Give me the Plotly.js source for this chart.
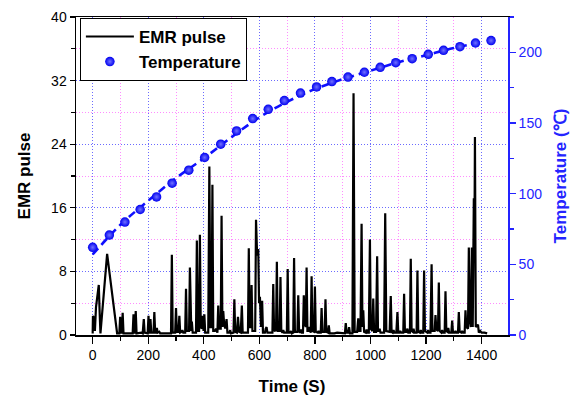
<!DOCTYPE html>
<html>
<head>
<meta charset="utf-8">
<script src="https://cdn.plot.ly/plotly-3.0.1.min.js"></script>
<style>html,body{margin:0;padding:0;background:#fff;}#chart{width:579px;height:398px;}</style>
</head>
<body>
<div id="chart"></div>
<script>
// EMR pulse samples: [time (s), pulse]
const emrSamples = [
[0,0.2],[1,2.4],[4,2.2],[8,0.5],[12,3.5],[22,6.3],[25,3],[28,0.2],[52,10.2],[88,0.2],
[96,0.2],[99,2.3],[102,0.3],[105,0.3],[108,2.8],[111,0.2],
[144,0.2],[147,2.6],[150,0.3],[152,0.3],[155,3.0],[158,0.2],
[175,0.3],[180,0.2],[184,2.0],[187,0.3],
[198,0.2],[201,2.4],[204,0.3],[206,0.3],[208,2.0],[211,0.3],
[219,0.3],[222,2.9],[225,0.3],
[229,0.3],[231,0.9],[234,0.3],[240,0.4],[243,0.2],
[282,0.2],[285,10.1],[288,0.3],
[297,0.3],[300,3.4],[303,0.4],
[309,0.4],[312,2.4],[315,0.3],
[320,0.4],[323,0.6],[326,0.3],
[333,0.3],[336,5.8],[339,0.5],
[347,0.5],[350,8.5],[353,0.5],[355,0.5],[357,1.7],[360,0.3],
[372,0.3],[375,11.9],[378,0.5],
[383,0.5],[386,12.6],[389,1],[393,0.8],[396,2.4],[399,0.5],[402,2.6],[405,0.3],
[416,0.3],[420,21.2],[424,1],[428,1],[431,18.9],[434,0.5],
[440,0.5],[444,0.8],[447,0.3],
[449,0.3],[452,3.7],[455,0.8],
[461,0.8],[464,15.0],[467,1.0],[470,3.0],[473,1.5],[477,0.8],[482,2.0],[485,0.3],
[492,0.3],[495,0.6],[498,0.2],
[507,0.3],[510,4.5],[513,0.4],
[519,0.3],[523,2.3],[527,0.4],
[533,0.3],[537,3.7],[540,0.3],
[559,0.3],[562,10.9],[565,1],[569,1],[572,6.3],[575,0.5],
[585,0.5],[588,14.5],[592,10],[596,10.8],[599,4],[602,4.8],[606,1],[610,4.3],[613,0.3],
[620,0.3],[623,0.8],[626,1.0],[629,0.3],
[647,0.3],[650,6.4],[653,0.5],[657,0.6],[660,0.5],[663,9.2],[666,0.5],
[673,0.5],[676,7.3],[679,0.5],
[683,0.3],[686,0.6],[689,0.3],
[699,0.3],[702,8.3],[705,0.3],
[710,0.3],[714,0.5],[717,0.2],
[722,0.3],[725,9.7],[728,0.4],
[737,0.4],[740,5.0],[743,0.5],
[747,0.3],[750,0.7],[753,0.3],
[757,0.3],[760,5.0],[763,1.5],[767,1],[770,8.5],[773,0.5],
[777,0.5],[780,1.0],[783,0.4],
[785,0.3],[788,7.4],[791,0.5],
[797,0.4],[800,6.1],[803,0.4],
[810,0.3],[813,0.5],[816,0.3],
[821,0.3],[824,3.4],[827,0.4],
[835,0.4],[838,4.5],[841,0.4],
[847,0.3],[850,1.2],[853,0.2],
[870,0.2],[880,0.3],[895,0.2],
[908,0.2],[911,1.5],[914,0.3],[920,0.3],[923,1.0],[926,0.2],
[935,0.2],[939,30.4],[943,0.4],
[952,0.4],[956,2.1],[959,0.5],
[964,0.5],[968,14.0],[971,1],[974,3.1],[977,0.4],
[983,0.3],[986,0.7],[989,0.3],
[994,0.3],[998,12.0],[1001,0.8],[1007,0.5],[1010,4.6],[1013,0.4],
[1020,0.4],[1024,9.9],[1027,0.5],
[1030,0.5],[1033,0.8],[1036,0.3],
[1049,0.3],[1053,15.3],[1057,0.5],
[1069,0.4],[1073,4.9],[1076,0.4],
[1080,0.3],[1083,0.6],[1086,0.3],
[1093,0.3],[1097,2.9],[1100,0.3],
[1104,0.3],[1107,0.5],[1110,0.3],
[1118,0.3],[1121,5.2],[1124,0.4],
[1130,0.4],[1133,0.8],[1136,0.3],
[1142,0.3],[1145,9.6],[1148,0.5],
[1152,0.4],[1155,0.8],[1158,0.3],
[1166,0.3],[1169,8.1],[1172,0.4],
[1178,0.3],[1181,0.6],[1184,0.3],
[1190,0.3],[1193,8.1],[1196,0.5],
[1204,0.3],[1207,0.6],[1210,0.3],
[1216,0.3],[1220,8.9],[1223,0.5],
[1231,0.5],[1234,2.5],[1237,0.7],
[1243,0.5],[1246,6.6],[1249,0.5],
[1255,0.3],[1258,0.6],[1261,0.3],
[1267,0.3],[1270,5.5],[1273,0.5],
[1277,0.4],[1280,0.9],[1283,0.3],
[1291,0.3],[1294,1.8],[1297,0.3],
[1303,0.3],[1306,0.5],[1309,0.3],
[1315,0.3],[1318,2.9],[1321,0.4],
[1327,0.3],[1330,0.5],[1333,0.3],
[1339,0.3],[1342,3.1],[1345,1],[1351,0.8],[1354,11.0],[1357,2],[1361,1],[1365,11],[1368,1],
[1372,17.2],[1374,10],[1376,24.9],[1379,1],[1387,1.3],[1390,0.3],
[1395,0.5],[1400,0.3],[1410,0.3],[1420,0.2]
];
const emrTime = emrSamples.map(p => p[0]);
const emrValue = emrSamples.map(p => p[1]);

// Temperature measurements (°C)
const tempTime = [0,60,116,171,230,286,346,403,461,518,576,632,690,748,806,861,919,978,1035,1091,1150,1208,1263,1322,1378,1434];
const tempValue = [62.0,70.7,79.9,88.8,97.7,107.4,116.6,125.6,135.0,144.4,153.1,159.7,165.9,171.2,175.5,179.3,182.5,185.9,189.4,192.7,195.5,198.6,201.4,204.0,206.6,208.3];

// Dashed fit curve
const fitTime = [0,100,200,300,400,500,600,700,800,900,1000,1100,1200,1300,1400];
const fitValue = [57,78,95,111,125,140,154,165,174,181,187,193,198,203,207];

const font = 'Arial, "Liberation Sans", sans-serif';
const blue = '#2424ff';
const gridDot = '1px,2px';

const traces = [
  {x: emrTime, y: emrValue, type: 'scatter', mode: 'lines', name: 'EMR pulse',
   line: {color: '#000', width: 2.2}, xaxis: 'x', yaxis: 'y'},
  {x: fitTime, y: fitValue, type: 'scatter', mode: 'lines', showlegend: false,
   line: {color: '#0f0fff', width: 2.6, dash: '8px,5px', shape: 'spline'}, xaxis: 'x', yaxis: 'y2'},
  {x: tempTime, y: tempValue, type: 'scatter', mode: 'markers', name: 'Temperature',
   marker: {color: '#0000f0', size: 9.5, gradient: {type: 'radial', color: '#7070ff'}, line: {width: 0}},
   xaxis: 'x', yaxis: 'y2'}
];

const layout = {
  width: 579, height: 398,
  margin: {l: 76, r: 71, t: 17, b: 63},
  paper_bgcolor: '#fff', plot_bgcolor: '#fff',
  font: {family: font, size: 14, color: '#000'},
  showlegend: true,
  legend: {x: 0.009, y: 0.997, xanchor: 'left', yanchor: 'top',
    bgcolor: '#fff', bordercolor: '#000', borderwidth: 1,
    font: {family: font, size: 17, color: '#000', weight: 'bold'},
    tracegroupgap: 0, itemwidth: 48},
  xaxis: {
    range: [-60, 1495], tickvals: [0,200,400,600,800,1000,1200,1400],
    ticks: 'outside', ticklen: 7, tickwidth: 1.2, tickcolor: '#000',
    showline: true, linecolor: '#000', linewidth: 1.5, mirror: true,
    showgrid: true, gridcolor: '#6b6bff', griddash: gridDot, gridwidth: 1,
    zeroline: false,
    tickfont: {family: font, size: 14, color: '#000'},
    minor: {tickvals: [100,300,500,700,900,1100,1300], ticks: 'outside', ticklen: 4, tickcolor: '#000',
      showgrid: true, gridcolor: '#ff8cff', griddash: gridDot, gridwidth: 1},
    title: {text: 'Time (S)', font: {family: font, size: 17, weight: 'bold', color: '#000'}, standoff: 18}
  },
  yaxis: {
    range: [0, 40], tickvals: [0,8,16,24,32,40],
    ticks: 'outside', ticklen: 5, tickwidth: 1.2, tickcolor: '#000',
    showline: true, linecolor: '#000', linewidth: 1.5,
    showgrid: true, gridcolor: '#6b6bff', griddash: gridDot, gridwidth: 1,
    zeroline: false,
    tickfont: {family: font, size: 14, color: '#000'},
    minor: {tickvals: [4,12,20,28,36], ticks: 'outside', ticklen: 4, tickcolor: '#000',
      showgrid: true, gridcolor: '#ff8cff', griddash: gridDot, gridwidth: 1},
    title: {text: 'EMR pulse', font: {family: font, size: 17, weight: 'bold', color: '#000'}, standoff: 16}
  },
  yaxis2: {
    overlaying: 'y', side: 'right', range: [0, 225], tickvals: [0,50,100,150,200],
    ticks: 'outside', ticklen: 6, tickwidth: 1.2, tickcolor: blue,
    showline: true, linecolor: blue, linewidth: 1.8,
    showgrid: false, zeroline: false,
    tickfont: {family: font, size: 14, color: blue},
    minor: {tickvals: [25,75,125,175,225], ticks: 'outside', ticklen: 4, tickcolor: blue, showgrid: false},
    title: {text: 'Temperature (℃)', font: {family: font, size: 17, weight: 'bold', color: blue}, standoff: 13}
  }
};

Plotly.newPlot('chart', traces, layout, {staticPlot: true, displayModeBar: false});
</script>
</body>
</html>
